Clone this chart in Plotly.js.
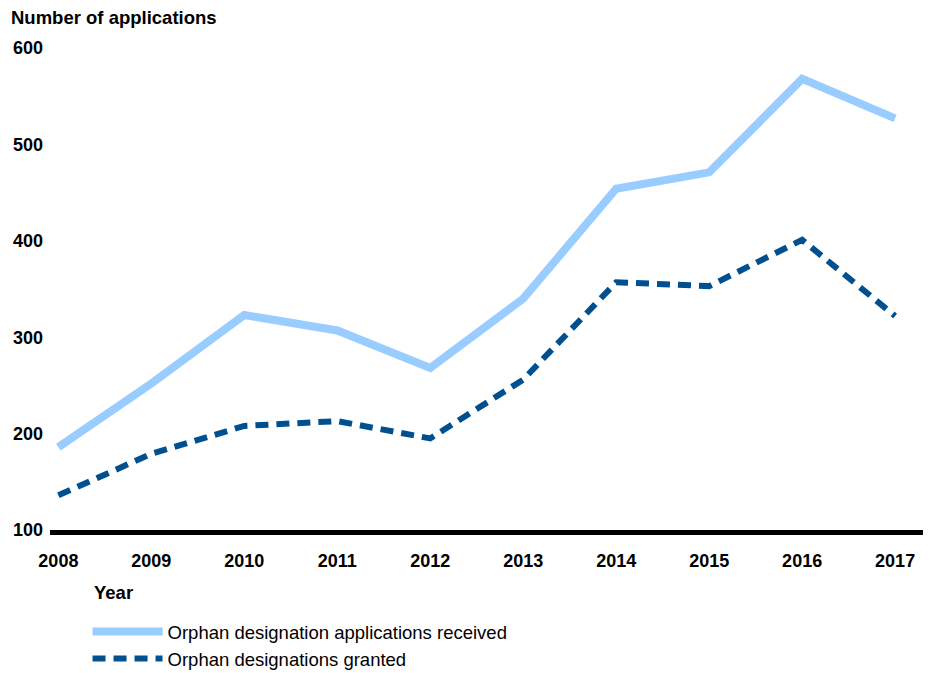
<!DOCTYPE html>
<html>
<head>
<meta charset="utf-8">
<script src="https://cdn.plot.ly/plotly-3.0.1.min.js"></script>
<style>
  html, body { margin: 0; padding: 0; background: #ffffff; }
  #chart { width: 930px; height: 673px; }
</style>
</head>
<body>
<div id="chart"></div>
<script>
// Orphan designations, 2008-2017
const years = [2008, 2009, 2010, 2011, 2012, 2013, 2014, 2015, 2016, 2017];
const applicationsReceived = [186, 252, 323, 307, 268, 340, 454, 471, 568, 527];
const designationsGranted = [136, 179, 208, 213, 195, 256, 357, 353, 401, 322];
const yTicks = [100, 200, 300, 400, 500, 600];

const FONT = 'Liberation Sans, Arial, sans-serif';

const traces = [
    {
        x: years,
        y: applicationsReceived,
        type: 'scatter',
        mode: 'lines',
        name: 'Orphan designation applications received',
        line: { color: '#99CCFF', width: 8 }
    },
    {
        x: years,
        y: designationsGranted,
        type: 'scatter',
        mode: 'lines',
        name: 'Orphan designations granted',
        line: { color: '#00508F', width: 6, dash: '13px,8px' }
    }
];

const layout = {
    width: 930,
    height: 673,
    paper_bgcolor: '#ffffff',
    plot_bgcolor: '#ffffff',
    margin: { t: 48, r: 7, b: 143, l: 50, autoexpand: false },
    font: { family: FONT, color: '#000000' },
    showlegend: true,
    legend: {
        x: 0.043,
        xanchor: 'left',
        y: -0.172,
        yanchor: 'top',
        itemwidth: 70,
        font: { family: FONT, size: 18.5, color: '#000000' },
        tracegroupgap: 0,
        bgcolor: 'rgba(0,0,0,0)'
    },
    xaxis: {
        range: [2007.91, 2017.3],
        tickvals: years,
        ticktext: years.map(String),
        showgrid: false,
        zeroline: false,
        showline: true,
        linecolor: '#000000',
        linewidth: 5,
        ticks: '',
        ticklabelstandoff: 10,
        tickfont: { family: FONT, size: 18, weight: 'bold', color: '#000000' }
    },
    yaxis: {
        range: [100, 600],
        tickvals: yTicks,
        showgrid: false,
        zeroline: false,
        showline: false,
        ticks: '',
        ticklabelstandoff: 6,
        tickfont: { family: FONT, size: 18, weight: 'bold', color: '#000000' }
    },
    annotations: [
        {
            text: 'Number of applications',
            xref: 'paper', yref: 'paper',
            x: -0.047, y: 1.064,
            xanchor: 'left', yanchor: 'middle',
            showarrow: false,
            font: { family: FONT, size: 18.5, weight: 'bold', color: '#000000' }
        },
        {
            text: 'Year',
            xref: 'paper', yref: 'paper',
            x: 0.048, y: -0.129,
            xanchor: 'left', yanchor: 'middle',
            showarrow: false,
            font: { family: FONT, size: 18.5, weight: 'bold', color: '#000000' }
        }
    ]
};

Plotly.newPlot('chart', traces, layout, { displayModeBar: false, responsive: false });
</script>
</body>
</html>
